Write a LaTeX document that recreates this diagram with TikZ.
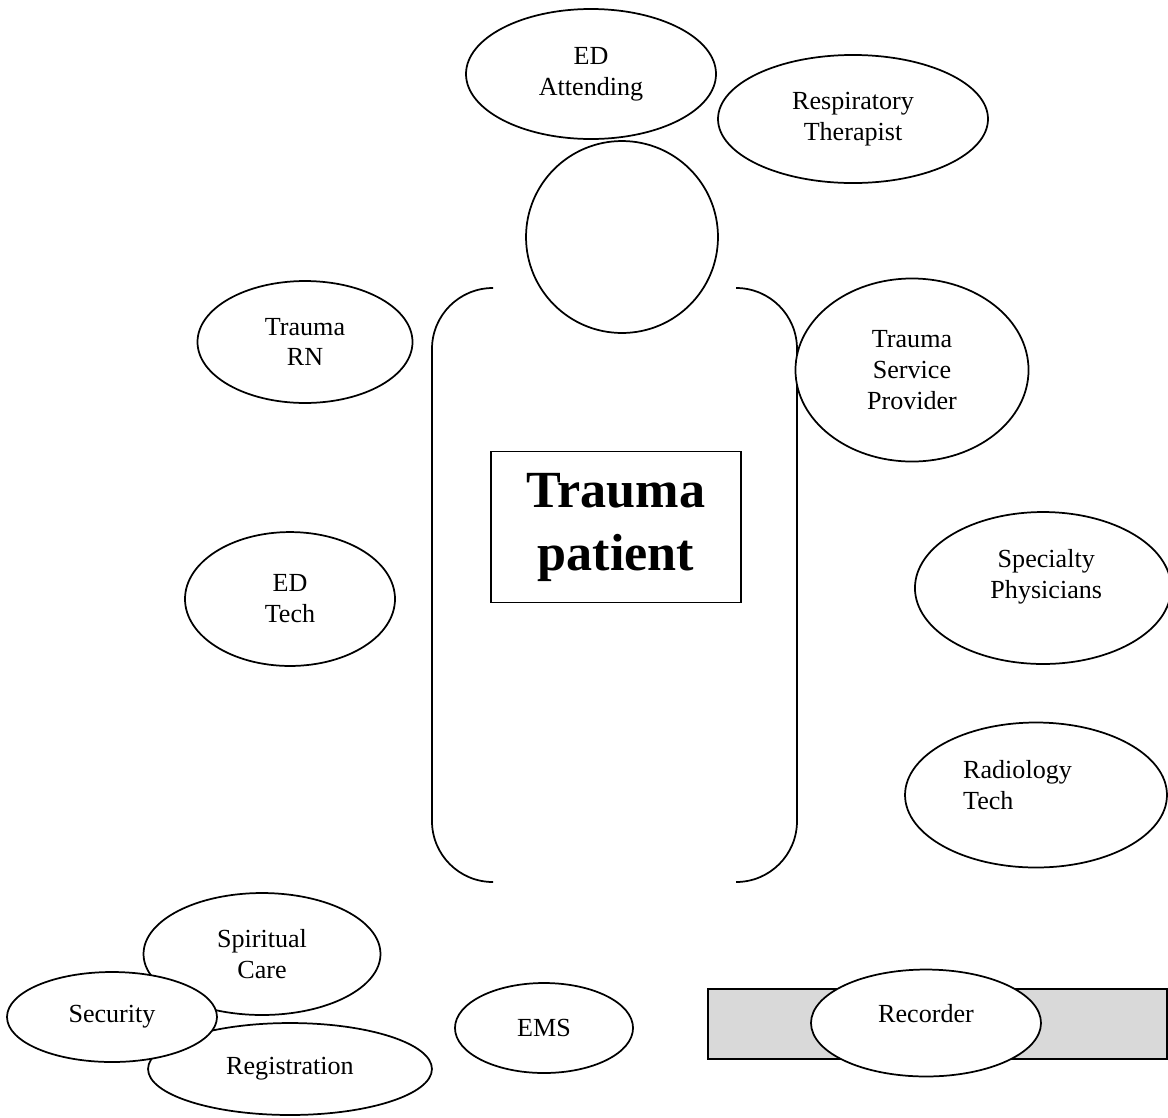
\documentclass[tikz,border=0pt]{standalone}
\usepackage{fontspec}
\setmainfont{Liberation Serif}
\usepackage{tikz}
\usetikzlibrary{shapes,positioning}
\tikzstyle{role}     = [ellipse, draw, fill=white, line width=0.8pt, inner sep=0pt,
                        align=center, font=\fontsize{12}{14.2}\selectfont]
\tikzstyle{roletext} = [inner sep=0pt, align=center, font=\fontsize{12}{14.2}\selectfont]
\tikzstyle{title}    = [rectangle, draw, line width=0.8pt, inner sep=0pt,
                        align=center, font=\fontsize{24}{29}\selectfont\bfseries]
\tikzstyle{body}     = [draw, line width=0.8pt, rounded corners=28pt]

\begin{document}
\begin{tikzpicture}[x=0.46pt, y=-0.46pt]
		\useasboundingbox (0,0) rectangle (1168,1117);

		% the patient
		\node[circle, draw, line width=0.8pt, minimum size=88.3pt] (head) at (622,237) {};
		\coordinate (lt) at (493,288);
		\coordinate (lb) at (493,882);
		\coordinate (rt) at (736,288);
		\coordinate (rb) at (736,882);
		\draw[body] (lt) -| (432,882) -- (lb);
		\draw[body] (rt) -| (797,882) -- (rb);
		\node[title, minimum width=115pt, minimum height=69.5pt] (patient) at (616,527) {Trauma\\patient};

		% team around the patient
		\node[role, minimum width=115pt, minimum height=59.8pt] (edatt) at (591,74) {ED\\Attending};
		\node[role, minimum width=124.2pt, minimum height=58.9pt] (resp) at (853,119) {Respiratory\\Therapist};
		\node[role, minimum width=98.9pt, minimum height=56.1pt] (rn) at (305,342) {Trauma\\RN};
		\node[role, minimum width=96.6pt, minimum height=61.6pt] (edtech) at (290,599) {ED\\Tech};
		\node[role, minimum width=107.2pt, minimum height=84.2pt] (tsp) at (912,370) {Trauma\\Service\\Provider};
		\node[role, minimum width=117.8pt, minimum height=69.9pt] (spec) at (1043,588) {};
		\node[roletext, yshift=5pt, xshift=1.5pt] (spec-txt) at (spec) {Specialty\\Physicians};
		\node[role, minimum width=120.5pt, minimum height=66.7pt] (radio) at (1036,795) {};
		\node[roletext, yshift=4.5pt, text width=67pt, align=left] (radio-txt) at (radio) {Radiology\\Tech};

		% bottom row
		\node[role, minimum width=109pt, minimum height=56.1pt] (spirit) at (262,954) {Spiritual\\Care};
		\node[role, minimum width=130.6pt, minimum height=42.3pt] (reg) at (290,1069) {Registration};
		\node[role, minimum width=96.6pt, minimum height=41.4pt] (sec) at (112,1017) {Security};
		\node[role, minimum width=81.9pt, minimum height=41.4pt] (ems) at (544,1028) {EMS};
		\node[draw, line width=0.8pt, fill=black!15, minimum width=211pt, minimum height=32.2pt, inner sep=0pt] (bar) at (937.5,1024) {};
		\node[role, minimum width=105.8pt, minimum height=49.2pt] (rec) at (926,1023) {};
		\node[roletext, yshift=4.5pt] (rec-txt) at (rec) {Recorder};
	\end{tikzpicture}
\end{document}
